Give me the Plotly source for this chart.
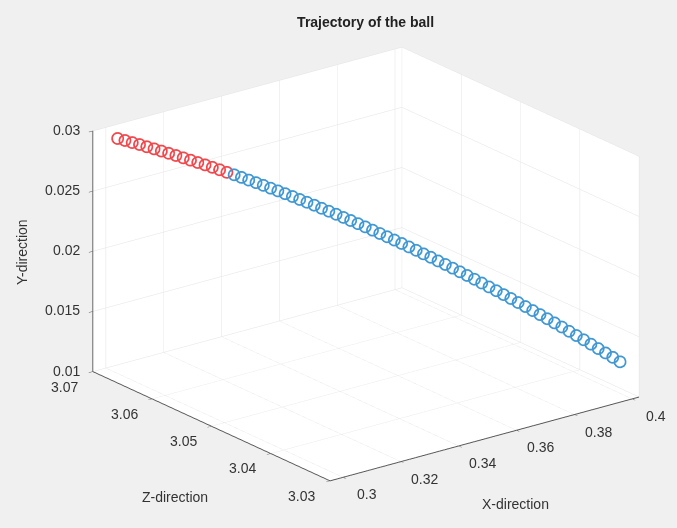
import plotly.graph_objects as go
import math

# X-direction values
x_red = [0.30191, 0.30330, 0.30469, 0.30608, 0.30747, 0.30886, 0.31025, 0.31164,
         0.31303, 0.31442, 0.31581, 0.31720, 0.31859, 0.31998, 0.32137, 0.32276]
x_blue = [0.32415, 0.32554, 0.32693, 0.32832, 0.32971, 0.33110, 0.33249, 0.33388,
          0.33527, 0.33666, 0.33805, 0.33944, 0.34083, 0.34222, 0.34361, 0.34500,
          0.34639, 0.34778, 0.34917, 0.35056, 0.35195, 0.35334, 0.35473, 0.35612,
          0.35751, 0.35890, 0.36029, 0.36168, 0.36307, 0.36446, 0.36585, 0.36724,
          0.36863, 0.37002, 0.37141, 0.37280, 0.37419, 0.37558, 0.37697, 0.37836,
          0.37975, 0.38114, 0.38253, 0.38392, 0.38531, 0.38670, 0.38809, 0.38948,
          0.39087, 0.39226, 0.39365, 0.39504, 0.39643, 0.39782]

# Z-direction values (depth)
zdir_red = [3.06900, 3.06845, 3.06790, 3.06735, 3.06680, 3.06625, 3.06570, 3.06515,
            3.06460, 3.06405, 3.06350, 3.06295, 3.06240, 3.06185, 3.06130, 3.06075]
zdir_blue = [3.06020, 3.05965, 3.05910, 3.05855, 3.05800, 3.05745, 3.05690, 3.05635,
             3.05580, 3.05525, 3.05470, 3.05415, 3.05360, 3.05305, 3.05250, 3.05195,
             3.05140, 3.05085, 3.05030, 3.04975, 3.04920, 3.04865, 3.04810, 3.04755,
             3.04700, 3.04645, 3.04590, 3.04535, 3.04480, 3.04425, 3.04370, 3.04315,
             3.04260, 3.04205, 3.04150, 3.04095, 3.04040, 3.03985, 3.03930, 3.03875,
             3.03820, 3.03765, 3.03710, 3.03655, 3.03600, 3.03545, 3.03490, 3.03435,
             3.03380, 3.03325, 3.03270, 3.03215, 3.03160, 3.03105]

# Y-direction values (height)
ydir_red = [0.02920, 0.02907, 0.02893, 0.02880, 0.02865, 0.02851, 0.02836, 0.02821,
            0.02806, 0.02790, 0.02774, 0.02758, 0.02742, 0.02725, 0.02708, 0.02690]
ydir_blue = [0.02673, 0.02655, 0.02636, 0.02618, 0.02599, 0.02579, 0.02560, 0.02540,
             0.02520, 0.02499, 0.02479, 0.02458, 0.02436, 0.02415, 0.02393, 0.02370,
             0.02348, 0.02325, 0.02302, 0.02278, 0.02254, 0.02230, 0.02206, 0.02181,
             0.02156, 0.02131, 0.02105, 0.02080, 0.02053, 0.02027, 0.02000, 0.01973,
             0.01946, 0.01918, 0.01890, 0.01861, 0.01833, 0.01804, 0.01775, 0.01745,
             0.01715, 0.01685, 0.01655, 0.01624, 0.01593, 0.01562, 0.01530, 0.01498,
             0.01466, 0.01433, 0.01400, 0.01367, 0.01334, 0.01300]

x_ticks = [0.3, 0.32, 0.34, 0.36, 0.38, 0.4]
x_ticklabels = ["0.3", "0.32", "0.34", "0.36", "0.38", "0.4"]
zdir_ticks = [3.03, 3.04, 3.05, 3.06, 3.07]
zdir_ticklabels = ["3.03", "3.04", "3.05", "3.06", "3.07"]
ydir_ticks = [0.01, 0.015, 0.02, 0.025, 0.03]
ydir_ticklabels = ["0.01", "0.015", "0.02", "0.025", "0.03"]

X_RANGE = [0.2955, 0.4024]
ZDIR_RANGE = [3.03, 3.07]
YDIR_RANGE = [0.01, 0.03]

RED = "#f2474c"
BLUE = "#3f98d4"
BG = "#f0f0f0"
GRID = "#e3e3e3"
AX = "#555555"
TXT = "#333333"
FONT = "Liberation Sans, Arial, sans-serif"

fig = go.Figure()
fig.add_trace(go.Scatter3d(x=x_red, y=zdir_red, z=ydir_red, mode="markers",
                           marker=dict(symbol="circle-open", size=7, color=RED,
                                       line=dict(width=2, color=RED)),
                           showlegend=False, hoverinfo="skip"))
fig.add_trace(go.Scatter3d(x=x_blue, y=zdir_blue, z=ydir_blue, mode="markers",
                           marker=dict(symbol="circle-open", size=7, color=BLUE,
                                       line=dict(width=2, color=BLUE)),
                           showlegend=False, hoverinfo="skip"))

def axis(rng, tv):
    return dict(title=dict(text=""),
                range=rng, tickvals=tv, autorange=False,
                showgrid=True, gridcolor=GRID, gridwidth=1,
                showline=True, linecolor=AX, linewidth=2,
                ticks="outside", tickcolor=AX, ticklen=5,
                showticklabels=False,
                showbackground=True, backgroundcolor="white",
                zeroline=False, showspikes=False)

# horizontal tick labels placed at the tick positions of each axis
scene_ann = []
for v, t in zip(ydir_ticks, ydir_ticklabels):
    scene_ann.append(dict(x=X_RANGE[0], y=ZDIR_RANGE[1], z=v, text=t, showarrow=False,
                          xanchor="right", yanchor="middle", xshift=-11, yshift=1,
                          font=dict(family=FONT, size=14, color=TXT)))
for v, t in zip(zdir_ticks, zdir_ticklabels):
    scene_ann.append(dict(x=X_RANGE[0], y=v, z=YDIR_RANGE[0], text=t, showarrow=False,
                          xanchor="center", yanchor="middle", xshift=-28, yshift=-15,
                          font=dict(family=FONT, size=14, color=TXT)))
for v, t in zip(x_ticks, x_ticklabels):
    scene_ann.append(dict(x=v, y=ZDIR_RANGE[0], z=YDIR_RANGE[0], text=t, showarrow=False,
                          xanchor="center", yanchor="middle", xshift=24, yshift=-17,
                          font=dict(family=FONT, size=14, color=TXT)))

el = 20.7
az = 37.5
r = 1.8
ce = math.cos(math.radians(el))
eye = dict(x=-r * ce * math.sin(math.radians(az)),
           y=-r * ce * math.cos(math.radians(az)),
           z=r * math.sin(math.radians(el)))

s = 0.972
fig.update_layout(
    width=677, height=528,
    paper_bgcolor=BG, plot_bgcolor=BG,
    margin=dict(l=0, r=0, t=0, b=0),
    title=dict(text="<b>Trajectory of the ball</b>", x=0.54, xanchor="center",
               y=0.958, yanchor="middle",
               font=dict(family=FONT, size=14, color="#222222")),
    annotations=[
        dict(text="Y-direction", x=22 / 677, y=1 - 252 / 528, xref="paper", yref="paper",
             showarrow=False, textangle=-90, xanchor="center", yanchor="middle",
             font=dict(family=FONT, size=14, color=TXT)),
        dict(text="Z-direction", x=175 / 677, y=1 - 497 / 528, xref="paper", yref="paper",
             showarrow=False, xanchor="center", yanchor="middle",
             font=dict(family=FONT, size=14, color=TXT)),
        dict(text="X-direction", x=515 / 677, y=1 - 504 / 528, xref="paper", yref="paper",
             showarrow=False, xanchor="center", yanchor="middle",
             font=dict(family=FONT, size=14, color=TXT)),
    ],
    scene=dict(
        domain=dict(x=[0.081, 1.0], y=[0.004, 0.996]),
        bgcolor=BG,
        xaxis=axis(X_RANGE, x_ticks),
        yaxis=axis(ZDIR_RANGE, zdir_ticks),
        zaxis=axis(YDIR_RANGE, ydir_ticks),
        aspectmode="manual", aspectratio=dict(x=1.53 * s, y=1.53 * s, z=1.01 * s),
        camera=dict(eye=eye, up=dict(x=0, y=0, z=1), center=dict(x=0, y=0, z=0),
                    projection=dict(type="orthographic")),
        annotations=scene_ann,
        dragmode=False,
    ),
)

fig.write_html("out.html", config={"displayModeBar": False},
               post_script="document.body.style.margin='0';")
